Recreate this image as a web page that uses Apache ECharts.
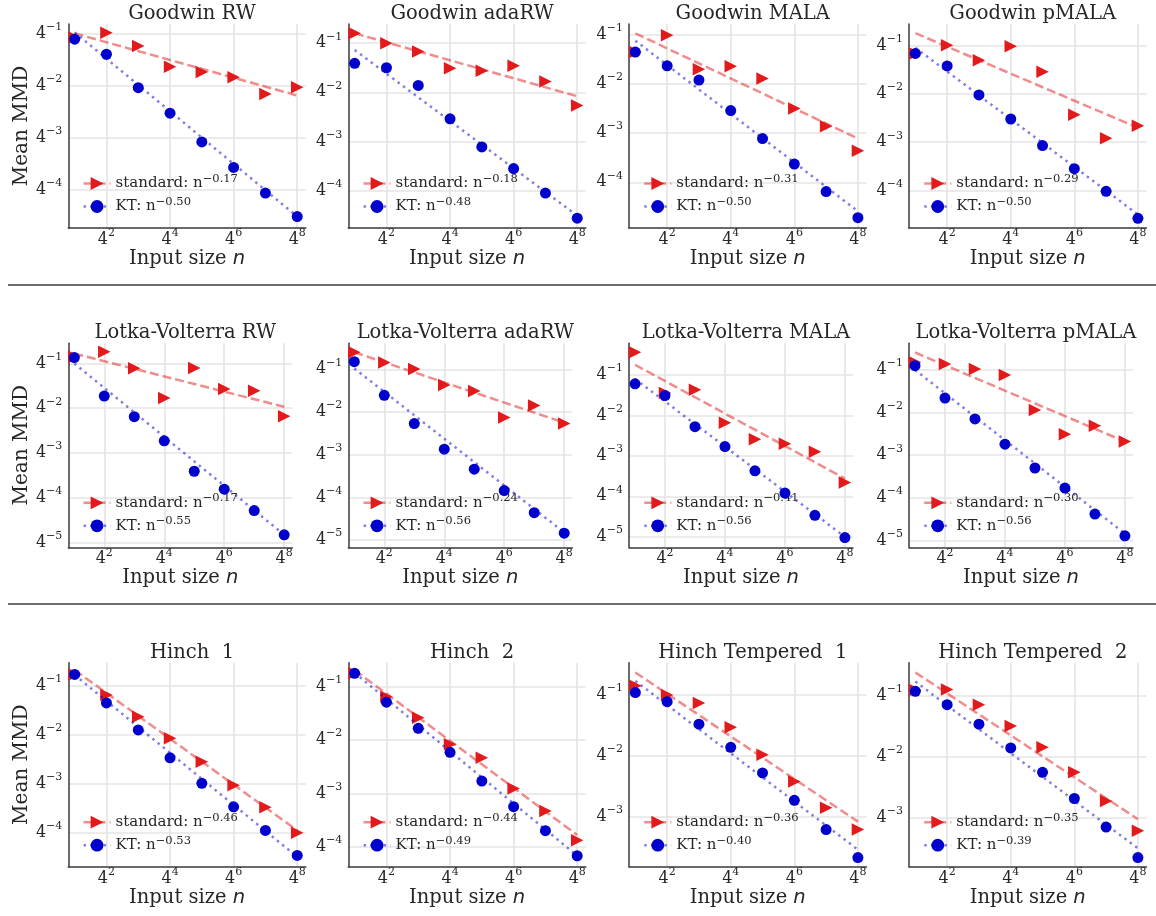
<!DOCTYPE html>
<html><head><meta charset="utf-8">
<script src="https://cdn.jsdelivr.net/npm/echarts@6/dist/echarts.min.js"></script>
<style>html,body{margin:0;padding:0;background:#fff}#c{width:1156px;height:916px}</style>
</head><body><div id="c"></div>
<script>
// ---------------- DATA ----------------
const titles = ['Goodwin RW','Goodwin adaRW','Goodwin MALA','Goodwin pMALA',
  'Lotka-Volterra RW','Lotka-Volterra adaRW','Lotka-Volterra MALA','Lotka-Volterra pMALA',
  'Hinch  1','Hinch  2','Hinch Tempered  1','Hinch Tempered  2'];
const inputSizes = [4, 16, 64, 256, 1024, 4096, 16384, 65536];
// log4(Mean MMD)
const stdLog4 = [
  [-1.08,-0.99,-1.24,-1.64,-1.74,-1.84,-2.16,-2.03],
  [-0.80,-1.00,-1.17,-1.51,-1.56,-1.46,-1.78,-2.27],
  [-1.35,-1.01,-1.70,-1.64,-1.89,-2.50,-2.86,-3.36],
  [-1.16,-0.99,-1.30,-1.01,-1.54,-2.43,-2.92,-2.66],
  [-0.85,-0.74,-1.11,-1.77,-1.10,-1.57,-1.61,-2.18],
  [-0.60,-0.84,-0.99,-1.37,-1.51,-2.13,-1.85,-2.27],
  [-0.44,-1.45,-1.37,-2.18,-2.59,-2.70,-2.90,-3.66],
  [-0.82,-0.86,-0.98,-1.12,-1.94,-2.51,-2.31,-2.68],
  [-0.77,-1.19,-1.63,-2.07,-2.55,-3.03,-3.48,-4.00],
  [-0.75,-1.19,-1.58,-2.08,-2.33,-2.91,-3.33,-3.88],
  [-0.85,-1.00,-1.13,-1.53,-1.98,-2.42,-2.85,-3.21],
  [-0.91,-0.90,-1.15,-1.50,-1.85,-2.26,-2.73,-3.22]
];
const ktLog4 = [
  [-1.11,-1.40,-2.04,-2.53,-3.08,-3.57,-4.06,-4.51],
  [-1.41,-1.50,-1.86,-2.54,-3.11,-3.55,-4.05,-4.56],
  [-1.35,-1.63,-1.92,-2.54,-3.11,-3.63,-4.19,-4.72],
  [-1.16,-1.42,-2.02,-2.52,-3.07,-3.55,-4.02,-4.58],
  [-0.87,-1.73,-2.19,-2.73,-3.41,-3.81,-4.29,-4.83],
  [-0.82,-1.61,-2.27,-2.87,-3.34,-3.84,-4.36,-4.84],
  [-1.22,-1.51,-2.28,-2.77,-3.37,-3.92,-4.47,-5.02],
  [-0.90,-1.66,-2.15,-2.74,-3.30,-3.77,-4.38,-4.89],
  [-0.77,-1.35,-1.90,-2.47,-2.99,-3.47,-3.95,-4.46],
  [-0.75,-1.29,-1.78,-2.23,-2.77,-3.25,-3.70,-4.17],
  [-0.96,-1.11,-1.48,-1.86,-2.28,-2.73,-3.21,-3.67],
  [-0.93,-1.15,-1.47,-1.86,-2.26,-2.69,-3.16,-3.66]
];
// fitted lines: log4(MMD) at n = 4 and n = 4^8
const fitSizes = [4, 65536];
const stdFitLog4 = [[-1.00,-2.19],[-0.80,-2.08],[-0.97,-3.11],[-0.74,-2.70],
  [-0.78,-1.97],[-0.60,-2.25],[-0.75,-3.56],[-0.59,-2.68],
  [-0.68,-3.95],[-0.69,-3.78],[-0.63,-3.08],[-0.62,-3.03]];
const ktFitLog4 = [[-0.98,-4.51],[-1.14,-4.51],[-1.12,-4.59],[-1.04,-4.50],
  [-1.00,-4.83],[-0.98,-4.82],[-1.10,-5.00],[-1.00,-4.84],
  [-0.78,-4.49],[-0.74,-4.17],[-0.77,-3.54],[-0.77,-3.51]];
const stdRates = ['\u22120.17','\u22120.18','\u22120.31','\u22120.29','\u22120.17','\u22120.24','\u22120.41','\u22120.30','\u22120.46','\u22120.44','\u22120.36','\u22120.35'];
const ktRates  = ['\u22120.50','\u22120.48','\u22120.50','\u22120.50','\u22120.55','\u22120.56','\u22120.56','\u22120.56','\u22120.53','\u22120.49','\u22120.40','\u22120.39'];
// axis ranges and ticks (log4 exponents)
const yRangeLog4 = [[-4.73,-0.82],[-4.76,-0.61],[-4.93,-0.78],[-4.78,-0.55],
  [-5.11,-0.55],[-5.17,-0.39],[-5.26,-0.22],[-5.16,-0.375],
  [-4.69,-0.53],[-4.375,-0.55],[-3.82,-0.47],[-3.81,-0.46]];
const yTickLog4 = [[-4,-3,-2,-1],[-4,-3,-2,-1],[-4,-3,-2,-1],[-4,-3,-2,-1],
  [-5,-4,-3,-2,-1],[-5,-4,-3,-2,-1],[-5,-4,-3,-2,-1],[-5,-4,-3,-2,-1],
  [-4,-3,-2,-1],[-4,-3,-2,-1],[-3,-2,-1],[-3,-2,-1]];
const xRangeLog4 = [0.8, 8.27];
const xTickLog4 = [2, 4, 6, 8];

// ---------------- LAYOUT / STYLE ----------------
const colLeft = [68.3, 348.3, 629, 909];
const rowTop = [24, 343.3, 662.7];
const rowWidth = [237.5, 224, 237.5];
const plotH = 204;
const FONT = 'DejaVu Serif';
const TXT = '#262626';
const RED = '#e31a1c', BLUE = '#0000cd';
const RED_LINE = 'rgba(227,26,28,0.5)', BLUE_LINE = 'rgba(0,0,205,0.5)';
const p4 = e => Math.pow(4, e);
const lg4 = v => Math.round(Math.log(v) / Math.log(4));
const supLabel = v => { const e = lg4(v); return '{b|4}{s|' + (e < 0 ? '\u2212' : '') + Math.abs(e) + '}'; };
const tickRich = {
  b: {fontFamily: FONT, fontSize: 16, color: TXT, lineHeight: 24},
  s: {fontFamily: FONT, fontSize: 11, color: TXT, verticalAlign: 'top', lineHeight: 11}
};

const grids = [], xAxes = [], yAxes = [], series = [], legends = [], titlesOpt = [];
const legendText = {};
for (let i = 0; i < 12; i++) {
  const r = Math.floor(i / 4), c = i % 4;
  const left = colLeft[c], top = rowTop[r], width = rowWidth[r];
  grids.push({left, top, width, height: plotH});
  titlesOpt.push({text: titles[i], left: left + width / 2, top: top - 25, textAlign: 'center',
    textStyle: {fontFamily: FONT, fontSize: 19.5, fontWeight: 'normal', color: TXT}});
  xAxes.push({type: 'log', logBase: 4, gridIndex: i, min: p4(xRangeLog4[0]), max: p4(xRangeLog4[1]),
    name: '{a|Input size }{i|n}', nameLocation: 'middle', nameGap: 20,
    nameTextStyle: {rich: {a: {fontFamily: FONT, fontSize: 19.5, color: TXT}, i: {fontFamily: 'DejaVu Sans', fontStyle: 'italic', fontSize: 19.5, color: TXT}}},
    axisLine: {show: true, lineStyle: {color: '#3a3a3a', width: 1.5}},
    axisTick: {show: false, customValues: xTickLog4.map(p4)},
    axisLabel: {customValues: xTickLog4.map(p4), formatter: supLabel, rich: tickRich, margin: 0},
    splitLine: {show: true, lineStyle: {color: '#e4e4e4', width: 1.6}}
  });
  yAxes.push({type: 'log', logBase: 4, gridIndex: i, min: p4(yRangeLog4[i][0]), max: p4(yRangeLog4[i][1]),
    name: c === 0 ? 'Mean MMD' : '', nameLocation: 'middle', nameGap: 36,
    nameTextStyle: {fontFamily: FONT, fontSize: 20, color: TXT},
    axisLine: {show: true, lineStyle: {color: '#3a3a3a', width: 1.5}},
    axisTick: {show: false, customValues: yTickLog4[i].map(p4)},
    axisLabel: {customValues: yTickLog4[i].map(p4), formatter: supLabel, rich: tickRich, margin: 6},
    splitLine: {show: true, lineStyle: {color: '#e4e4e4', width: 1.6}}
  });
  const sName = 'std' + i, kName = 'kt' + i;
  legendText[sName] = '{t|standard: n}{s|' + stdRates[i] + '}';
  legendText[kName] = '{t|KT: n}{s|' + ktRates[i] + '}';
  series.push({type: 'line', name: sName, xAxisIndex: i, yAxisIndex: i, z: 2,
    data: inputSizes.map((n, k) => [n, p4(stdLog4[i][k])]),
    symbol: 'triangle', symbolSize: 12.5, symbolRotate: -90, showSymbol: true,
    itemStyle: {color: RED}, lineStyle: {opacity: 0}});
  series.push({type: 'line', name: 'stdfit' + i, xAxisIndex: i, yAxisIndex: i, z: 3,
    data: fitSizes.map((n, k) => [n, p4(stdFitLog4[i][k])]), symbol: 'none',
    lineStyle: {color: RED_LINE, width: 2.5, type: [9, 4]}});
  series.push({type: 'line', name: kName, xAxisIndex: i, yAxisIndex: i, z: 4,
    data: inputSizes.map((n, k) => [n, p4(ktLog4[i][k])]),
    symbol: 'circle', symbolSize: 11, showSymbol: true,
    itemStyle: {color: BLUE}, lineStyle: {opacity: 0}});
  series.push({type: 'line', name: 'ktfit' + i, xAxisIndex: i, yAxisIndex: i, z: 5,
    data: fitSizes.map((n, k) => [n, p4(ktFitLog4[i][k])]), symbol: 'none',
    lineStyle: {color: BLUE_LINE, width: 2.5, type: [2.5, 4.2]}});
  legends.push({left: left + 14, top: top + plotH - 55, orient: 'vertical', padding: 0,
    itemWidth: 27, itemHeight: 16, itemGap: 5, selectedMode: false,
    data: [
      {name: sName, lineStyle: {color: RED_LINE, width: 2.5, type: [9, 4], opacity: 1}},
      {name: kName, lineStyle: {color: BLUE_LINE, width: 2.5, type: [2.5, 4.2], opacity: 1}}
    ],
    formatter: n => legendText[n],
    textStyle: {rich: {
      t: {fontFamily: FONT, fontSize: 15, color: TXT, lineHeight: 21},
      s: {fontFamily: FONT, fontSize: 11.5, color: TXT, verticalAlign: 'top', lineHeight: 11}
    }}
  });
}

const chart = echarts.init(document.getElementById('c'), null, {renderer: 'canvas'});
chart.setOption({
  animation: false,
  backgroundColor: '#fff',
  title: titlesOpt,
  grid: grids, xAxis: xAxes, yAxis: yAxes, series, legend: legends,
  graphic: [
    {type: 'line', shape: {x1: 8, y1: 285, x2: 1156, y2: 285}, style: {stroke: '#3c3c3c', lineWidth: 1.3}},
    {type: 'line', shape: {x1: 8, y1: 604, x2: 1156, y2: 604}, style: {stroke: '#3c3c3c', lineWidth: 1.3}}
  ]
});
</script>
</body></html>
